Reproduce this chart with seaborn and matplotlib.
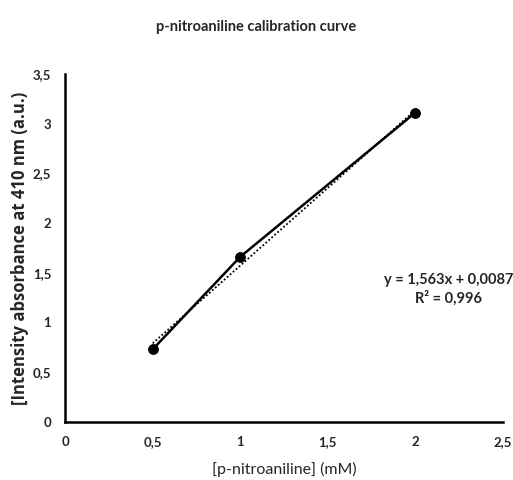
import matplotlib
matplotlib.use("Agg")
import matplotlib.pyplot as plt
import seaborn as sns
import numpy as np
import pandas as pd

conc = [0.5, 1.0, 2.0]
absorb = [0.73, 1.66, 3.11]
slope = 1.563
intercept = 0.0087
r2 = 0.996
xticks = [0, 0.5, 1, 1.5, 2, 2.5]
yticks = [0, 0.5, 1, 1.5, 2, 2.5, 3, 3.5]

sns.set_theme(style="white")
plt.rcParams['font.family'] = ['Lato', 'DejaVu Sans']

df = pd.DataFrame({"conc": conc, "abs": absorb})
fit_x = np.array([min(conc), max(conc)])
fit_df = pd.DataFrame({"conc": fit_x, "abs": slope * fit_x + intercept})

fig = plt.figure(figsize=(5.13, 4.8), dpi=100)
ax = fig.add_axes([0.127, 0.121, 0.853, 0.725])

sns.lineplot(data=fit_df, x="conc", y="abs", ax=ax, color="black",
             linestyle=(0, (1, 1.2)), linewidth=1.3)
sns.lineplot(data=df, x="conc", y="abs", ax=ax, color="black",
             linewidth=1.8, marker="o", markersize=7, markeredgecolor="black")

ax.set_xlim(0, 2.5)
ax.set_ylim(0, 3.5)
ax.set_xticks(xticks)
ax.set_yticks(yticks)
fmt = lambda v: (f"{v:g}").replace(".", ",")
ax.set_xticklabels([fmt(v) for v in xticks], fontsize=9.5, fontweight="bold")
ax.set_yticklabels([fmt(v) for v in yticks], fontsize=9.5, fontweight="bold")
ax.tick_params(axis="x", pad=10, length=0)
ax.tick_params(axis="y", pad=10, length=0)

for s in ["top", "right"]:
    ax.spines[s].set_visible(False)
for s in ["left", "bottom"]:
    ax.spines[s].set_color("black")
    ax.spines[s].set_linewidth(1.8)

ax.set_xlabel("[p-nitroaniline] (mM)", fontsize=11.5, labelpad=10)
ax.set_ylabel("[Intensity absorbance at 410 nm (a.u.)", fontsize=12,
              fontweight="bold", labelpad=3,
              family=['Open Sans', 'DejaVu Sans'])

fig.text(0.5, 0.943, "p-nitroaniline calibration curve", ha="center",
         va="center", fontsize=10.5, fontweight="bold")

eq = f"y = {str(slope).replace('.', ',')}x + {str(intercept).replace('.', ',')}"
ax.text(2.19, 1.33, eq + "\n" + f"R² = {str(r2).replace('.', ',')}",
        ha="center", va="center", fontsize=10.5, fontweight="bold",
        linespacing=1.3)

fig.savefig("out.png", dpi=100)
